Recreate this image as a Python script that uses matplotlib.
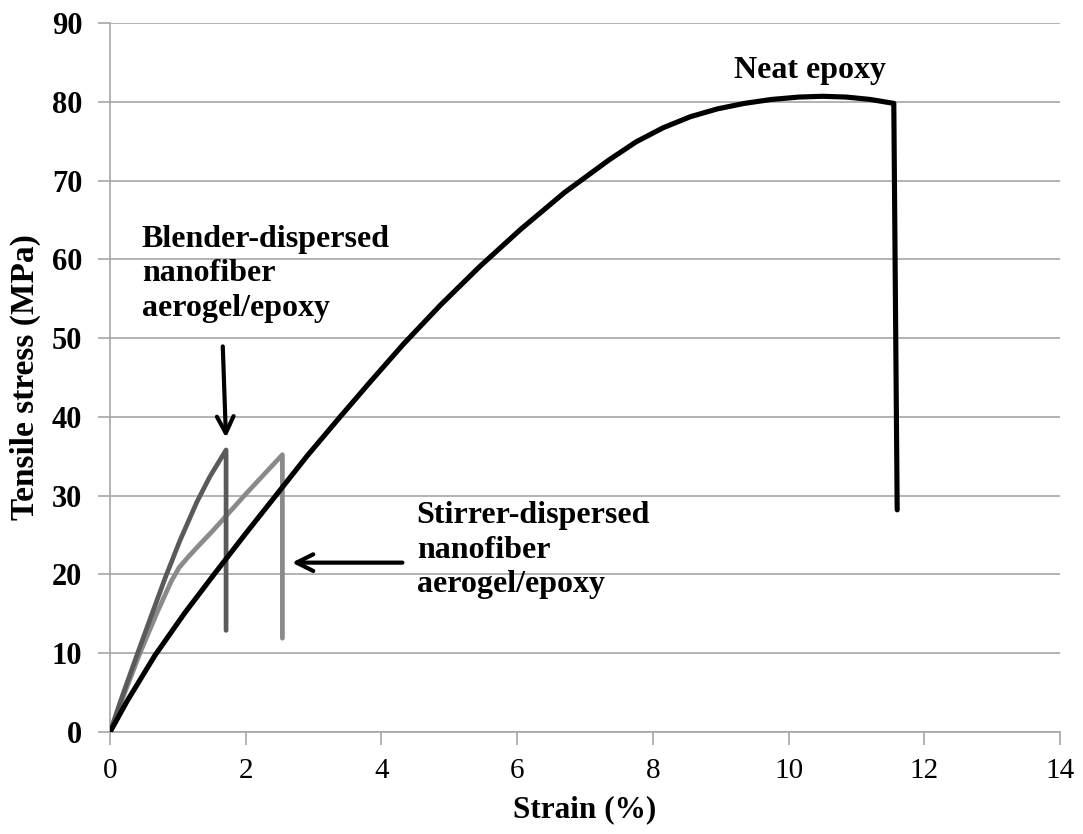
import numpy as np
import matplotlib
matplotlib.use('Agg')
from matplotlib import pyplot as plt

# neat epoxy
neat_strain = [0, 0.25, 0.66, 1.1, 1.55, 2.0, 2.46, 2.9, 3.38, 3.85, 4.33, 4.87, 5.45,
               6.05, 6.7, 7.35, 7.75, 8.15, 8.55, 8.95, 9.35, 9.75, 10.15, 10.5,
               10.85, 11.2, 11.55, 11.6]
neat_stress = [0, 3.9, 9.7, 15.1, 20.2, 25.2, 30.2, 35, 39.9, 44.6, 49.3, 54.2, 59.1,
               63.8, 68.5, 72.6, 74.9, 76.7, 78.1, 79.1, 79.8, 80.3, 80.6, 80.7,
               80.6, 80.3, 79.8, 28.2]

# blender-dispersed aerogel/epoxy
blender_strain = [0, 0.17, 0.39, 0.61, 0.81, 1.03, 1.28, 1.47, 1.71, 1.71]
blender_stress = [0, 4.3, 9.6, 14.8, 19.5, 24.3, 29.2, 32.4, 35.8, 12.9]

# stirrer-dispersed aerogel/epoxy
stirrer_strain = [0, 0.2, 0.44, 0.69, 0.9, 1.02, 1.15, 1.3, 1.52, 2.01, 2.54, 2.54]
stirrer_stress = [0, 4.6, 10, 15.1, 19.1, 20.9, 22.2, 23.6, 25.6, 30.3, 35.2, 11.9]

x_ticks = [0, 2, 4, 6, 8, 10, 12, 14]
y_ticks = [0, 10, 20, 30, 40, 50, 60, 70, 80, 90]

plt.rcParams['font.family'] = ['Liberation Serif', 'DejaVu Serif']

fig = plt.figure(figsize=(10.83, 8.34), dpi=100)
ax = fig.add_axes([0.1016, 0.1223, 0.8772, 0.8501])

grid_c = '#a6a6a6'
line_kw = dict(solid_capstyle='round', solid_joinstyle='round')
ax.plot(stirrer_strain, stirrer_stress, color='#8a8a8a', lw=3.4, zorder=3, **line_kw)
ax.plot(blender_strain, blender_stress, color='#5a5a5a', lw=3.4, zorder=4, **line_kw)
ax.plot(neat_strain, neat_stress, color='black', lw=3.7, zorder=5, **line_kw)

ax.set_xlim(0, 14)
ax.set_ylim(0, 90)
ax.set_xticks(x_ticks)
ax.set_yticks(y_ticks)
ax.set_xticklabels([str(t) for t in x_ticks], fontsize=21)
ax.set_yticklabels([str(t) for t in y_ticks], fontsize=22, fontweight='bold')
ax.yaxis.grid(True, color=grid_c, lw=1.2)
ax.set_axisbelow(True)
for s in ['top', 'right']:
    ax.spines[s].set_visible(False)
for s in ['left', 'bottom']:
    ax.spines[s].set_color(grid_c)
    ax.spines[s].set_linewidth(1.2)
ax.tick_params(axis='both', color=grid_c, length=9, width=1.2)
ax.tick_params(axis='y', pad=11)
ax.tick_params(axis='x', pad=10)

ax.set_xlabel('Strain (%)', fontsize=22.5, fontweight='bold', labelpad=8)
ax.set_ylabel('Tensile stress (MPa)', fontsize=24, fontweight='bold', labelpad=8)

txt = dict(fontsize=23, fontweight='bold', linespacing=1.25)
ax.text(10.32, 84.0, 'Neat epoxy', ha='center', va='center', **txt)
ax.text(0.47, 58.2, 'Blender-dispersed\nnanofiber\naerogel/epoxy', ha='left', va='center', **txt)
ax.text(4.52, 23.1, 'Stirrer-dispersed\nnanofiber\naerogel/epoxy', ha='left', va='center', **txt)

arrow = dict(arrowstyle='->', lw=3, color='black', mutation_scale=30)
ax.annotate('', xy=(1.71, 37.0), xytext=(1.66, 49.3), arrowprops=arrow)
ax.annotate('', xy=(2.64, 21.5), xytext=(4.35, 21.5), arrowprops=arrow)

fig.savefig('out.png', dpi=100)
